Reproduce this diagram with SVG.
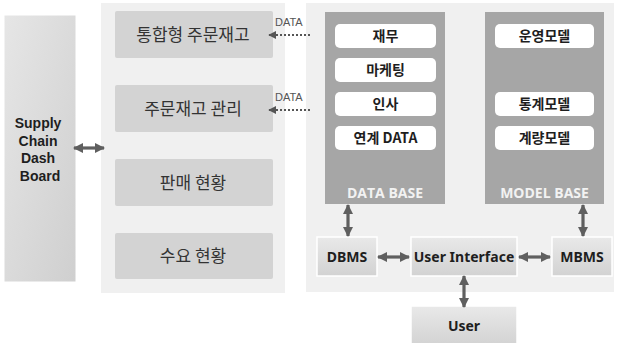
<svg xmlns="http://www.w3.org/2000/svg" width="619" height="343" viewBox="0 0 619 343">
  <defs>
    <linearGradient id="gDash" x1="0" y1="0" x2="1" y2="1">
      <stop offset="0" stop-color="#e6e6e6"/>
      <stop offset="1" stop-color="#cfcfcf"/>
    </linearGradient>
    <linearGradient id="gBox" x1="0" y1="0" x2="0" y2="1">
      <stop offset="0" stop-color="#e9e9e9"/>
      <stop offset="1" stop-color="#d2d2d2"/>
    </linearGradient>
    <marker id="ah" viewBox="0 0 10 10" refX="9" refY="5" markerWidth="3.2" markerHeight="3.2" orient="auto-start-reverse">
      <path d="M0,0 L10,5 L0,10 Z" fill="#5f5f5f"/>
    </marker>
    <marker id="ahs" viewBox="0 0 10 10" refX="9" refY="5" markerWidth="4" markerHeight="4" orient="auto-start-reverse">
      <path d="M0,0 L10,5 L0,10 Z" fill="#555"/>
    </marker>
  </defs>
  <style>
    .ko { font-family: "Noto Sans CJK KR", "Noto Sans", sans-serif; }
    .menu { fill: #d3d3d3; }
    .menuTxt { font-size: 17px; fill: #333; text-anchor: middle; }
    .pill { fill: #ffffff; }
    .pillTxt { font-size: 14px; font-weight: bold; fill: #1e1e1e; text-anchor: middle; }
    .base { fill: #a6a6a6; }
    .baseTxt { font-family: "Open Sans", "Noto Sans", sans-serif; font-size: 14px; font-weight: bold; fill: #f2f2f2; text-anchor: middle; }
    .box { fill: url(#gBox); stroke: #ffffff; stroke-width: 1.5; }
    .boxTxt { font-family: "Noto Sans", "Open Sans", sans-serif; font-size: 14px; font-weight: bold; fill: #1e1e1e; text-anchor: middle; }
    .dashTxt { font-family: "Liberation Sans", Arial, sans-serif; font-size: 14px; font-weight: bold; fill: #1e1e1e; text-anchor: middle; }
    .arr { stroke: #5f5f5f; stroke-width: 3.2; fill: none; marker-start: url(#ah); marker-end: url(#ah); }
    .dot { stroke: #555; stroke-width: 2; stroke-dasharray: 2 2; fill: none; marker-end: url(#ahs); }
    .lbl { font-family: "Liberation Sans", Arial, sans-serif; font-size: 11px; fill: #555; }
  </style>

  <rect width="619" height="343" fill="#ffffff"/>

  <!-- panels -->
  <rect x="101" y="3" width="184" height="290" fill="#f0f0f0"/>
  <rect x="306" y="3" width="308" height="289" fill="#f0f0f0"/>

  <!-- dashboard -->
  <g id="dashboard">
    <rect x="4" y="15" width="72" height="267" fill="url(#gDash)" stroke="#ffffff" stroke-width="1"/>
    <text class="dashTxt" x="40">
      <tspan x="40" y="128">Supply</tspan>
      <tspan x="40" y="146">Chain</tspan>
      <tspan x="40" y="163">Dash</tspan>
      <tspan x="40" y="181">Board</tspan>
    </text>
  </g>

  <!-- menu column -->
  <g id="menu-order">
    <rect class="menu" x="115" y="11" width="158" height="47" rx="2"/>
    <text class="ko menuTxt" x="193" y="41">통합형 주문재고</text>
  </g>
  <g id="menu-manage">
    <rect class="menu" x="115" y="85" width="158" height="47" rx="2"/>
    <text class="ko menuTxt" x="193" y="115">주문재고 관리</text>
  </g>
  <g id="menu-sales">
    <rect class="menu" x="115" y="159" width="158" height="47" rx="2"/>
    <text class="ko menuTxt" x="193" y="189">판매 현황</text>
  </g>
  <g id="menu-demand">
    <rect class="menu" x="115" y="233" width="158" height="46" rx="2"/>
    <text class="ko menuTxt" x="193" y="262">수요 현황</text>
  </g>

  <!-- data base -->
  <g id="database">
    <rect class="base" x="325" y="12" width="120" height="192"/>
    <rect class="pill" x="335" y="24" width="101" height="24" rx="5"/>
    <text class="ko pillTxt" x="385.5" y="41">재무</text>
    <rect class="pill" x="335" y="58" width="101" height="24" rx="5"/>
    <text class="ko pillTxt" x="385.5" y="75">마케팅</text>
    <rect class="pill" x="335" y="92" width="101" height="24" rx="5"/>
    <text class="ko pillTxt" x="385.5" y="109">인사</text>
    <rect class="pill" x="335" y="126" width="101" height="24" rx="5"/>
    <text class="ko pillTxt" x="385.5" y="143">연계 DATA</text>
    <text class="baseTxt" x="385" y="198">DATA BASE</text>
  </g>

  <!-- model base -->
  <g id="modelbase">
    <rect class="base" x="485" y="12" width="119" height="192"/>
    <rect class="pill" x="495" y="24" width="99" height="24" rx="5"/>
    <text class="ko pillTxt" x="544.5" y="41">운영모델</text>
    <rect class="pill" x="495" y="92" width="99" height="24" rx="5"/>
    <text class="ko pillTxt" x="544.5" y="109">통계모델</text>
    <rect class="pill" x="495" y="126" width="99" height="24" rx="5"/>
    <text class="ko pillTxt" x="544.5" y="143">계량모델</text>
    <text class="baseTxt" x="544.5" y="198">MODEL BASE</text>
  </g>

  <!-- management systems -->
  <g id="dbms">
    <rect class="box" x="317" y="237" width="60" height="39"/>
    <text class="boxTxt" x="347" y="262">DBMS</text>
  </g>
  <g id="ui">
    <rect class="box" x="411" y="237" width="106" height="39"/>
    <text class="boxTxt" x="464" y="262" font-size="13.2">User Interface</text>
  </g>
  <g id="mbms">
    <rect class="box" x="552" y="237" width="60" height="39"/>
    <text class="boxTxt" x="582" y="262">MBMS</text>
  </g>
  <g id="user">
    <rect class="box" x="411" y="306" width="106" height="40"/>
    <text class="boxTxt" x="464" y="331">User</text>
  </g>

  <!-- connectors -->
  <g id="connectors">
    <line class="arr" x1="74" y1="148" x2="104" y2="148"/>
    <line class="dot" x1="310" y1="35" x2="269" y2="35"/>
    <line class="dot" x1="310" y1="110" x2="269" y2="110"/>
    <text class="lbl" x="275" y="26">DATA</text>
    <text class="lbl" x="275" y="101">DATA</text>
    <line class="arr" x1="348" y1="205" x2="348" y2="236"/>
    <line class="arr" x1="583" y1="205" x2="583" y2="236"/>
    <line class="arr" x1="378" y1="257" x2="409" y2="257"/>
    <line class="arr" x1="519" y1="257" x2="550" y2="257"/>
    <line class="arr" x1="464" y1="276" x2="464" y2="307"/>
  </g>
</svg>
